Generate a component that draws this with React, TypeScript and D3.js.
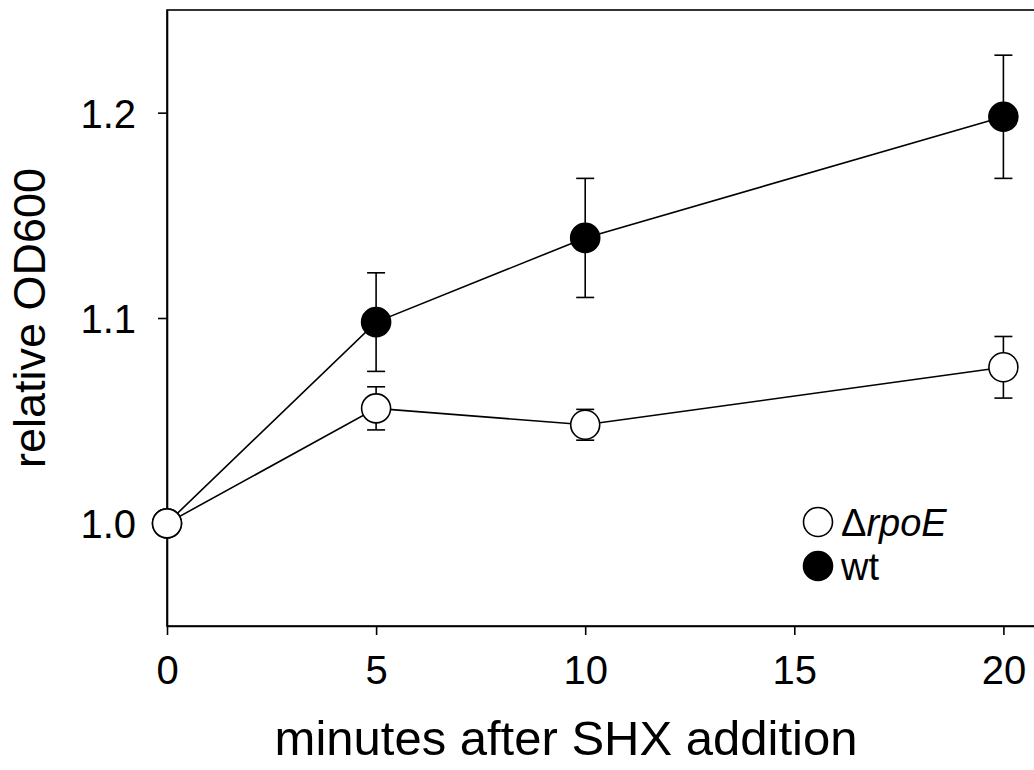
import React, { useEffect, useRef } from 'react';
import * as d3 from 'd3';

// minutes after SHX addition
const minutes = [0, 5, 10, 20];
// relative OD600, wild type
const wtMean = [1.0, 1.098, 1.139, 1.198];
const wtErr = [0, 0.024, 0.029, 0.03];
// relative OD600, rpoE deletion
const rpoEMean = [1.0, 1.056, 1.048, 1.076];
const rpoEErr = [0, 0.0105, 0.0075, 0.015];

const xTicks = [0, 5, 10, 15, 20];
const yTicks = [1.0, 1.1, 1.2];

export default function App() {
  const ref = useRef<SVGSVGElement>(null);

  useEffect(() => {
    const svgEl = ref.current;
    if (!svgEl) return;
    while (svgEl.firstChild) svgEl.removeChild(svgEl.firstChild);

    const width = 1034;
    const height = 770;
    const left = 167;
    const top = 10;
    const bottom = 626;
    const font = 'Arial, "Liberation Sans", sans-serif';

    const x = d3.scaleLinear().domain([0, 21]).range([left, left + 21 * 41.82]);
    const y = d3.scaleLinear().domain([0.95, 1.25]).range([bottom, top]);

    const svg = d3.select(svgEl)
      .attr('width', width)
      .attr('height', height);

    // frame (right side runs past the picture)
    svg.append('rect')
      .attr('x', x(0))
      .attr('y', y(1.25))
      .attr('width', x(21) - x(0))
      .attr('height', y(0.95) - y(1.25))
      .attr('fill', 'none')
      .attr('stroke', '#000')
      .attr('stroke-width', 1.6);

    // axes
    const xAxis = svg.append('g')
      .attr('transform', `translate(0,${bottom})`)
      .call(d3.axisBottom(x).tickValues(xTicks).tickSize(9).tickSizeOuter(0).tickPadding(21));
    const yAxis = svg.append('g')
      .attr('transform', `translate(${left},0)`)
      .call(d3.axisLeft(y).tickValues(yTicks).tickSize(9).tickSizeOuter(0).tickPadding(22).tickFormat(d3.format('.1f')));

    [xAxis, yAxis].forEach(ax => {
      ax.select('.domain').attr('stroke-width', 1.6);
      ax.selectAll('.tick line').attr('stroke-width', 1.6);
      ax.selectAll('.tick text')
        .attr('fill', '#000')
        .style('font-family', font)
        .style('font-size', '40px');
    });
    yAxis.selectAll('.tick text').attr('dy', '0.36em');

    // axis titles
    svg.append('text')
      .attr('x', 566)
      .attr('y', 755)
      .attr('text-anchor', 'middle')
      .style('font-family', font)
      .style('font-size', '49px')
      .text('minutes after SHX addition');

    svg.append('text')
      .attr('transform', `translate(45,${y(1.1)}) rotate(-90)`)
      .attr('text-anchor', 'middle')
      .style('font-family', font)
      .style('font-size', '45px')
      .text('relative OD600');

    const line = d3.line<number>()
      .x((d, i) => x(minutes[i]))
      .y(d => y(d));

    const series = [
      { mean: wtMean, err: wtErr, fill: '#000' },
      { mean: rpoEMean, err: rpoEErr, fill: '#fff' },
    ];

    series.forEach(s => {
      svg.append('path')
        .attr('d', line(s.mean))
        .attr('fill', 'none')
        .attr('stroke', '#000')
        .attr('stroke-width', 1.6);
    });

    series.forEach(s => {
      const g = svg.append('g');
      s.mean.forEach((m, i) => {
        if (!s.err[i]) return;
        const cx = x(minutes[i]);
        const y1 = y(m + s.err[i]);
        const y2 = y(m - s.err[i]);
        g.append('line').attr('x1', cx).attr('x2', cx).attr('y1', y1).attr('y2', y2)
          .attr('stroke', '#000').attr('stroke-width', 1.6);
        [y1, y2].forEach(yy => {
          g.append('line').attr('x1', cx - 9).attr('x2', cx + 9).attr('y1', yy).attr('y2', yy)
            .attr('stroke', '#000').attr('stroke-width', 1.6);
        });
      });
    });

    series.forEach(s => {
      svg.append('g')
        .selectAll('circle')
        .data(s.mean)
        .enter()
        .append('circle')
        .attr('cx', (d, i) => x(minutes[i]))
        .attr('cy', d => y(d))
        .attr('r', 14.5)
        .attr('fill', s.fill)
        .attr('stroke', '#000')
        .attr('stroke-width', 1.6);
    });

    // legend
    const legend = [
      { fill: '#fff', cy: 522 },
      { fill: '#000', cy: 566 },
    ];
    legend.forEach(l => {
      svg.append('circle')
        .attr('cx', 818).attr('cy', l.cy).attr('r', 14.5)
        .attr('fill', l.fill).attr('stroke', '#000').attr('stroke-width', 1.6);
    });
    const t1 = svg.append('text')
      .attr('x', 841).attr('y', 536)
      .style('font-family', font).style('font-size', '38px');
    t1.append('tspan').text('\u0394');
    t1.append('tspan').style('font-style', 'italic').text('rpoE');
    svg.append('text')
      .attr('x', 841).attr('y', 580)
      .style('font-family', font).style('font-size', '38px')
      .text('wt');
  }, []);

  return (
    <svg ref={ref} style={{ position: 'absolute', left: 0, top: 0 }} />
  );
}
